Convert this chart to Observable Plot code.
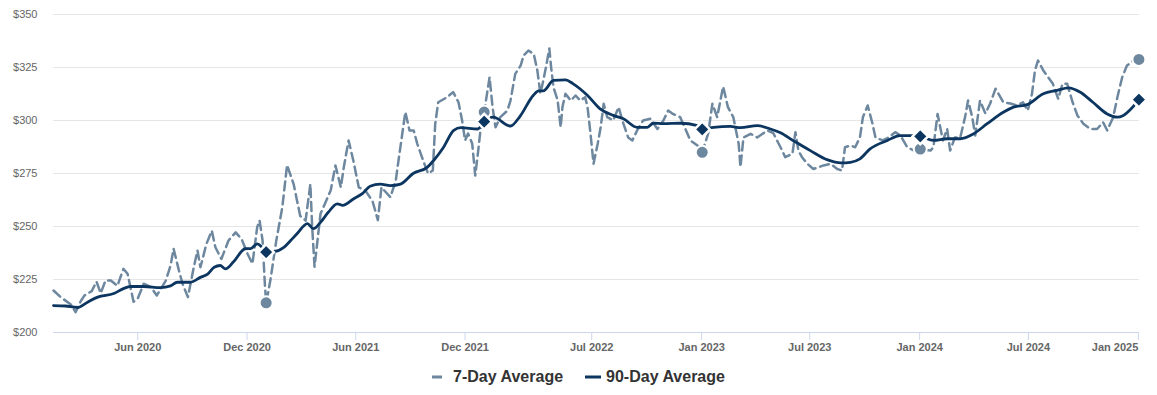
<!DOCTYPE html>
<html>
<head>
<meta charset="utf-8">
<script src="https://cdn.jsdelivr.net/npm/d3@7"></script>
<script src="https://cdn.jsdelivr.net/npm/@observablehq/plot@0.6"></script>
<style>
  body { margin: 0; background: #fff; font-family: Arial, "Liberation Sans", sans-serif; }
  #chart svg g[aria-label="x-axis tick label"] { font-weight: bold; }
  #legend { display: flex; justify-content: center; align-items: center; margin-top: 12px;
            font-size: 16px; font-weight: bold; color: #333; line-height: 20px; }
  #legend .item { display: flex; align-items: center; }
  #legend svg { margin-right: 5px; }
  #legend .gap { width: 22px; }
</style>
</head>
<body>
<div id="chart"></div>
<div id="legend"></div>
<script>
// ---- data ----
const sevenDayAvg = [
["2020-01-12",219.8],["2020-01-24",216.7],["2020-02-10",213.2],["2020-02-18",209.6],["2020-02-27",215],
["2020-03-04",217.5],["2020-03-16",219.5],["2020-03-24",224],["2020-03-31",218.5],["2020-04-08",224.5],
["2020-04-17",224.5],["2020-04-28",222],["2020-05-08",230],["2020-05-15",227.7],["2020-05-25",214.5],
["2020-06-01",216],["2020-06-11",223],["2020-06-23",221.4],["2020-07-03",217.5],["2020-07-18",224.5],
["2020-07-26",231.6],["2020-07-31",239.5],["2020-08-09",229.2],["2020-08-15",223],["2020-08-24",216.7],
["2020-09-03",231],["2020-09-09",238.7],["2020-09-14",230.8],["2020-09-24",241.8],["2020-10-03",248],
["2020-10-09",240.2],["2020-10-19",234.7],["2020-10-31",243.4],["2020-11-12",247.2],["2020-11-22",244],
["2020-12-02",237],["2020-12-10",232.4],["2020-12-18",249.7],["2020-12-22",252.8],["2020-12-27",243.4],
["2020-12-31",222],["2021-01-02",214],["2021-01-09",224.5],["2021-01-19",243.4],["2021-01-29",259],
["2021-02-06",279],["2021-02-17",270],["2021-02-28",255],["2021-03-09",252.8],["2021-03-17",270],
["2021-03-20",250],["2021-03-24",231],["2021-04-03",256],["2021-04-20",267],["2021-04-28",278.8],
["2021-05-07",268.5],["2021-05-12",278],["2021-05-20",290.6],["2021-05-28",281],["2021-06-06",268.5],
["2021-06-17",267],["2021-06-29",262],["2021-07-08",253],["2021-07-14",268.5],["2021-07-29",263.8],
["2021-08-07",271.7],["2021-08-10",278],["2021-08-23",304],["2021-08-30",295.3],["2021-09-06",295.3],
["2021-09-12",289],["2021-09-22",281],["2021-09-30",275],["2021-10-08",276.4],["2021-10-12",298.4],
["2021-10-17",308.6],["2021-11-01",311],["2021-11-11",313.4],["2021-11-20",308.6],["2021-11-26",300],
["2021-12-01",290.6],["2021-12-06",293.9],["2021-12-13",289],["2021-12-18",274],["2021-12-23",285.8],
["2021-12-27",296],["2022-01-02",304],["2022-01-11",320.4],["2022-01-16",306.3],["2022-01-21",296.8],
["2022-01-29",301.6],["2022-02-10",304.7],["2022-02-15",309.4],["2022-02-20",317.3],["2022-02-23",322],
["2022-03-04",325.9],["2022-03-09",330.7],["2022-03-17",333],["2022-03-26",331.4],["2022-04-01",323.6],
["2022-04-06",312.6],["2022-04-11",318.9],["2022-04-16",326],["2022-04-21",334],["2022-04-24",325.2],
["2022-04-28",315.7],["2022-05-05",309.4],["2022-05-10",296.8],["2022-05-13",306.3],["2022-05-18",312.6],
["2022-05-27",309.4],["2022-06-04",311.8],["2022-06-12",309.4],["2022-06-20",311],["2022-06-24",306.3],
["2022-06-29",293.7],["2022-07-04",279.6],["2022-07-11",289],["2022-07-16",296.8],["2022-07-21",307.9],
["2022-07-27",301.6],["2022-08-06",300],["2022-08-15",306.3],["2022-08-23",298.5],["2022-08-31",292],
["2022-09-07",290.6],["2022-09-15",295.3],["2022-09-25",300],["2022-10-07",300.8],["2022-10-19",296],
["2022-10-29",300],["2022-11-06",304.7],["2022-11-14",303.1],["2022-11-26",301.6],["2022-12-01",298.5],
["2022-12-13",290.6],["2022-12-25",288.2],["2023-01-02",285],["2023-01-12",293.9],["2023-01-19",307.9],
["2023-01-27",301.6],["2023-02-06",316],["2023-02-14",306.3],["2023-02-23",301.6],["2023-03-04",289],
["2023-03-07",278],["2023-03-12",292],["2023-03-24",293.7],["2023-04-04",292],["2023-04-21",295.3],
["2023-05-01",294],["2023-05-13",287.4],["2023-05-21",282.7],["2023-06-02",284.3],["2023-06-07",294.5],
["2023-06-12",285.8],["2023-06-18",282.7],["2023-06-27",279.6],["2023-07-07",277.1],["2023-07-24",278.8],
["2023-08-05",279.6],["2023-08-16",277.1],["2023-08-24",276.4],["2023-08-29",287.4],["2023-09-07",288.2],
["2023-09-15",287.4],["2023-09-23",292],["2023-09-28",301.6],["2023-10-06",307.1],["2023-10-14",298.5],
["2023-10-19",292],["2023-10-31",290.6],["2023-11-10",292],["2023-11-21",294.5],["2023-11-30",292.9],
["2023-12-11",287.4],["2023-12-21",286],["2024-01-02",286.5],["2024-01-19",285.8],["2024-01-24",287.4],
["2024-01-31",303.1],["2024-02-05",296],["2024-02-09",290.6],["2024-02-16",296],["2024-02-21",285.8],
["2024-02-29",292],["2024-03-09",292],["2024-03-17",301.6],["2024-03-22",309.4],["2024-03-29",301.6],
["2024-04-03",292.9],["2024-04-11",309.4],["2024-04-20",303.3],["2024-04-28",308],["2024-05-07",315],
["2024-05-12",312.6],["2024-05-20",308.6],["2024-06-01",308],["2024-06-12",307.1],["2024-06-22",308.6],
["2024-06-30",304.7],["2024-07-07",312.6],["2024-07-12",323.6],["2024-07-17",328.3],["2024-07-26",323.6],
["2024-08-03",320.4],["2024-08-11",317.3],["2024-08-20",310.2],["2024-08-27",317.3],["2024-09-04",317.3],
["2024-09-13",308.6],["2024-09-21",302.4],["2024-10-01",298.5],["2024-10-13",296],["2024-10-24",296],
["2024-11-03",299.2],["2024-11-10",295.3],["2024-11-20",301.6],["2024-11-27",311],["2024-12-05",320.4],
["2024-12-13",325.9],["2024-12-24",328.3],["2025-01-02",328.8]
];

const ninetyDayAvg = [
["2020-01-12",212.7],["2020-02-01",212.5],["2020-02-21",211.8],["2020-03-09",214.3],["2020-03-26",216.7],
["2020-04-22",218.4],["2020-05-08",220.7],["2020-05-20",221.7],["2020-06-11",221.7],["2020-07-09",221.2],
["2020-07-26",222],["2020-08-06",223.7],["2020-08-28",223.7],["2020-09-14",226],["2020-09-26",227.5],
["2020-10-07",230.8],["2020-10-17",231.6],["2020-10-26",230],["2020-11-08",233.2],["2020-11-28",239.5],
["2020-12-07",239.6],["2020-12-18",241.8],["2020-12-26",240.2],["2021-01-02",237.9],["2021-01-14",238],
["2021-01-31",240],["2021-02-12",243.4],["2021-02-23",246.7],["2021-03-12",251.4],["2021-03-22",249],
["2021-04-03",252],["2021-04-16",256.7],["2021-05-01",260.7],["2021-05-10",260],["2021-05-28",263],
["2021-06-12",265.5],["2021-06-25",269],["2021-07-12",270],["2021-07-29",269.3],["2021-08-15",270],
["2021-09-05",275],["2021-09-29",278],["2021-10-09",281],["2021-10-26",287.4],["2021-11-12",295.3],
["2021-11-24",296.6],["2021-12-22",296],["2022-01-02",299.5],["2022-01-17",301.6],["2022-02-15",297.4],
["2022-03-03",302],["2022-03-25",311.8],["2022-04-03",314],["2022-04-11",314],["2022-04-28",318.9],
["2022-05-18",319.2],["2022-05-31",317.3],["2022-06-24",311.8],["2022-07-15",305.5],["2022-08-06",302.4],
["2022-08-23",300.8],["2022-09-15",296.8],["2022-10-02",296.8],["2022-10-12",298.7],["2022-10-29",298.5],
["2022-11-26",298.7],["2022-12-25",297.6],["2023-01-02",295.8],["2023-01-21",296.8],["2023-02-18",297.2],
["2023-03-07",296.6],["2023-04-04",297.6],["2023-04-26",296],["2023-05-13",294.2],["2023-06-03",290.6],
["2023-07-02",285.8],["2023-07-31",281.4],["2023-08-22",280],["2023-09-07",280.3],["2023-09-23",281.9],
["2023-10-10",286.6],["2023-11-08",290.6],["2023-11-29",292.9],["2023-12-21",292.9],["2024-01-02",292.5],
["2024-01-24",290.6],["2024-02-16",291.4],["2024-03-09",291.4],["2024-03-31",293.7],["2024-04-23",298.5],
["2024-05-20",303.9],["2024-06-06",306.3],["2024-06-29",307.5],["2024-07-26",312.6],["2024-08-18",314.2],
["2024-09-06",315.4],["2024-09-26",313.3],["2024-10-17",308.6],["2024-11-10",303.1],["2024-11-27",301.6],
["2024-12-07",302.4],["2025-01-02",309.8]
];

const markerDates = ["2021-01-02","2022-01-02","2023-01-02","2024-01-02","2025-01-02"];
const marker7Values = [214, 304, 285, 286.5, 328.8];
const marker90Values = [237.9, 299.5, 295.8, 292.5, 309.8];

const xTickDates = ["2020-06-01","2020-12-01","2021-06-01","2021-12-01","2022-07-01",
                    "2023-01-01","2023-07-01","2024-01-01","2024-07-01","2025-01-01"];
const yTicks = [200, 225, 250, 275, 300, 325, 350];
const seriesNames = ["7-Day Average", "90-Day Average"];

// ---- build ----
const parse = d3.utcParse("%Y-%m-%d");
const c7 = "#6d879f", c90 = "#0c3660";
const seven = sevenDayAvg.map(([d, v]) => ({date: parse(d), value: v}));
const ninety = ninetyDayAvg.map(([d, v]) => ({date: parse(d), value: v}));
const m7 = markerDates.map((d, i) => ({date: parse(d), value: marker7Values[i]}));
const m90 = markerDates.map((d, i) => ({date: parse(d), value: marker90Values[i]}));
const ticks = xTickDates.map(parse);
const fmt = d3.utcFormat("%b %Y");

const chart = Plot.plot({
  width: 1157,
  height: 355,
  marginLeft: 53,
  marginRight: 18,
  marginTop: 14,
  marginBottom: 23,
  style: {fontFamily: 'Arial, "Liberation Sans", sans-serif', fontSize: "11px", color: "#666", background: "#fff"},
  x: {type: "utc", domain: [parse("2020-01-12"), parse("2025-01-03")]},
  y: {domain: [200, 350]},
  marks: [
    Plot.gridY(yTicks, {stroke: "#e6e6e6", strokeOpacity: 1}),
    Plot.ruleY([200], {stroke: "#ccd6eb"}),
    Plot.axisY(yTicks, {tickSize: 0, tickPadding: 16, tickFormat: d => "$" + d, fill: "#666", label: null}),
    Plot.axisX(ticks.slice(0, -1), {tickSize: 8, tickPadding: 3, tickFormat: fmt, stroke: "#ccd6eb", fill: "#666", label: null}),
    Plot.axisX(ticks.slice(-1), {tickSize: 8, tickPadding: 3, tickFormat: fmt, stroke: "#ccd6eb", fill: "#666", textAnchor: "end", label: null}),
    Plot.line(seven, {x: "date", y: "value", stroke: c7, strokeWidth: 2.5, strokeDasharray: "9,5"}),
    Plot.line(ninety, {x: "date", y: "value", stroke: c90, strokeWidth: 2.8, curve: "monotone-x"}),
    Plot.dot(m7, {x: "date", y: "value", r: 6.5, fill: c7, stroke: "#fff", strokeWidth: 2}),
    Plot.dot(m90, {x: "date", y: "value", r: 7, symbol: "diamond2", fill: c90, stroke: "#fff", strokeWidth: 2.5})
  ]
});
document.getElementById("chart").appendChild(chart);

// ---- legend ----
const legend = document.getElementById("legend");
legend.innerHTML =
  `<div class="item"><svg width="16" height="12"><line x1="0" y1="6" x2="16" y2="6" stroke="${c7}" stroke-width="3" stroke-dasharray="10,6"/></svg><span>${seriesNames[0]}</span></div>` +
  `<div class="gap"></div>` +
  `<div class="item"><svg width="16" height="12"><line x1="0" y1="6" x2="16" y2="6" stroke="${c90}" stroke-width="3"/></svg><span>${seriesNames[1]}</span></div>`;
</script>
</body>
</html>
